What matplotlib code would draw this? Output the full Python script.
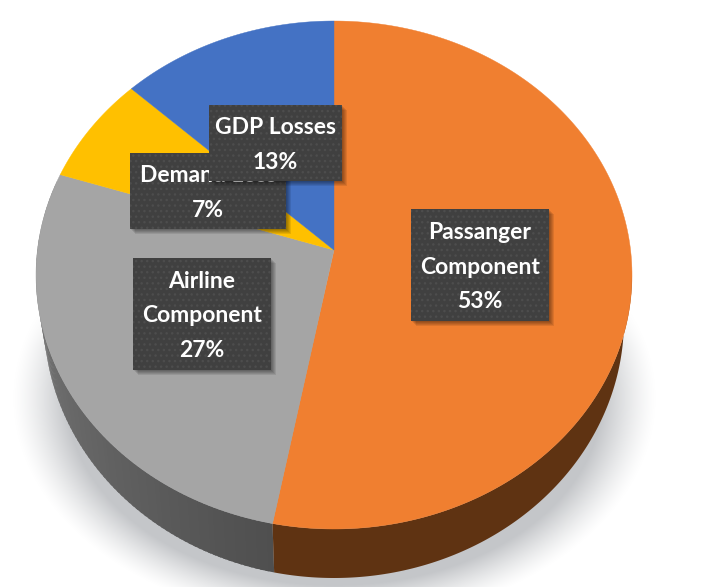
import numpy as np
import matplotlib
matplotlib.use('Agg')
import matplotlib.pyplot as plt
from matplotlib.patches import Rectangle

# slices go clockwise from 12 o'clock
labels = ['Passanger\nComponent', 'Airline\nComponent', 'Demand Loss', 'GDP Losses']
shares = [53, 27, 7, 13]
top_colors = ['#F07F30', '#A5A5A5', '#FFC000', '#4472C4']

# pixel boxes of the data labels: left, top, right, bottom
label_boxes = [(411, 209, 549, 321), (133, 258, 271, 370), (130, 153, 286, 229), (209, 105, 342, 181)]

CX, CY = 334.0, 275.0
RX, RY = 298.0, 254.0
TILT = 0.098
BOTTOM_CY, BOTTOM_RX, BOTTOM_RY = 320.0, 290.0, 258.0


def rim(theta, cx=CX, cy=CY, rx=RX, ry=RY):
    # perspective view of the disc, theta in degrees clockwise from the top
    t = np.radians(theta)
    u, v = np.sin(t), np.cos(t)
    d = 1 + TILT * v
    return cx + rx * u * np.sqrt(1 - TILT ** 2) / d, cy - ry * (v + TILT) / d


fig = plt.figure(figsize=(7.08, 5.87), dpi=100)
ax = fig.add_axes([0, 0, 1, 1])
ax.set_xlim(0, 708)
ax.set_ylim(587, 0)
ax.axis('off')

# soft shadow under the pie
yy, xx = np.mgrid[0:587, 0:708]
dist = np.sqrt(((xx - 334) / 322.0) ** 2 + ((yy - 398) / 225.0) ** 2)
alpha = np.clip((1.0 - dist) / 0.17, 0, 1) ** 1.3 * np.clip((yy - 265) / 80.0, 0, 1)
shadow = np.zeros((587, 708, 4))
shadow[..., 0], shadow[..., 1], shadow[..., 2] = 0.77, 0.78, 0.79
shadow[..., 3] = alpha
ax.imshow(shadow, extent=(0, 708, 587, 0), aspect='auto', zorder=1, interpolation='bilinear')

edges = np.cumsum([0] + shares) * 3.6

# side wall, only the part facing the viewer: grey first, then orange over the seam
orange_wall = np.arange(95, edges[1], 0.5)
x_t, y_t = rim(np.r_[orange_wall, edges[1]])
x_b, y_b = rim(np.r_[orange_wall, edges[1]], cy=BOTTOM_CY, rx=BOTTOM_RX, ry=BOTTOM_RY)
for a in np.arange(edges[1], 285, 1.0):
    x0, y0 = rim(a)
    x1, y1 = rim(a + 1.6)
    x2, y2 = rim(a + 1.6, cy=BOTTOM_CY, rx=BOTTOM_RX, ry=BOTTOM_RY)
    x3, y3 = rim(a, cy=BOTTOM_CY, rx=BOTTOM_RX, ry=BOTTOM_RY)
    g = 0.31 + (a - edges[1]) / (285 - edges[1]) * 0.20
    ax.fill([x0, x1, x2, x3], [y0, y1, y2, y3], color=(g, g, g), lw=0, zorder=2 + a / 1000)
ax.fill(np.r_[x_t, x_b[::-1]], np.r_[y_t, y_b[::-1]], color='#5F3312', lw=0, zorder=2.5)

# top face
apex = rim(0)[0], CY - RY * TILT
for i in range(len(shares)):
    a = np.linspace(edges[i], edges[i + 1], 200)
    x, y = rim(a)
    ax.fill(np.r_[apex[0], x], np.r_[apex[1], y], color=top_colors[i], lw=0.3, zorder=3)

# data labels, later ones cover earlier ones
for i in range(len(shares)):
    l, t, r, b = label_boxes[i]
    z = 5 + i
    for off in [6, 5, 4, 3, 2]:
        ax.add_patch(Rectangle((l + off - 1, t + off - 1), r - l, b - t, fc='black', ec='none',
                               alpha=0.09, zorder=z))
    ax.add_patch(Rectangle((l, t), r - l, b - t, fc='#404040', ec='#4D4D4D', lw=0, hatch='...', zorder=z))
    lines = labels[i].split('\n') + ['%d%%' % shares[i]]
    step = 34.5
    y0 = (t + b) / 2 - step * (len(lines) - 1) / 2
    for j, line in enumerate(lines):
        ax.text((l + r) / 2, y0 + j * step + 2, line, color='white', family='Lato', weight='bold',
                fontsize=16.5, ha='center', va='center', zorder=z + 0.5)

fig.savefig('out.png', dpi=100)
